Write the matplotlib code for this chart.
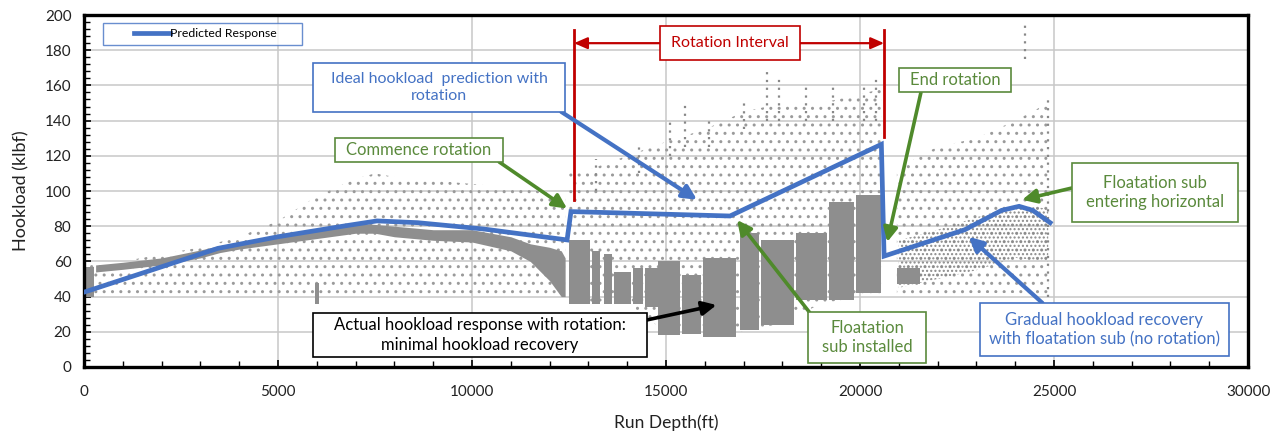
import matplotlib
matplotlib.use("Agg")
import matplotlib.pyplot as plt
from matplotlib.patches import Rectangle
from matplotlib.legend_handler import HandlerLine2D
from matplotlib.ticker import MultipleLocator

plt.rcParams['font.family'] = ['Lato', 'DejaVu Sans']
plt.rcParams['hatch.linewidth'] = 1.0

# ---------------- data ----------------
# Predicted response (blue line)
pred_depth = [0, 3450, 5000, 6700, 7550, 8600, 10300, 12450, 12550, 16650,
              20550, 20620, 22700, 23650, 24100, 24450, 24900]
pred_load = [42.5, 67.4, 74, 80.1, 83, 82, 78.4, 72.2, 88.3, 85.8,
             126.5, 63, 78, 89, 91.3, 89, 82]

# Measured hookload: sparse envelope (no rotation, first section)
sparseA_depth = [0, 1000, 2000, 3000, 4000, 5000, 5500, 6000, 6500, 7000,
                 7500, 8000, 9000, 10000, 11000, 12000, 12400]
sparseA_low = [40, 40, 40, 40, 40, 40, 40, 40, 40, 40, 40, 40, 40, 40, 40, 40, 40]
sparseA_high = [58, 60, 64, 68, 74, 83, 90, 97, 102, 107, 110, 108, 106, 104, 102, 99, 96]

# Measured hookload: dense trend band, first section
bandA_depth = [300, 1000, 2000, 3000, 3500, 4000, 5000, 6000, 7000, 7500,
               8000, 9000, 10000, 11000, 11500, 12000, 12300, 12400]
bandA_low = [54, 55.5, 58, 62, 65, 67, 70, 73, 76, 76, 74, 72, 71, 66, 60, 49, 40, 40]
bandA_high = [58, 59.5, 62, 66.5, 69, 70.5, 75, 78, 82, 81, 80, 78, 78, 74, 70, 68, 66, 62]

# Dense columns (start depth, end depth, low, high)
col_start = [0, 5950, 12500, 13100, 13400, 13650, 14150, 14450, 14800, 15400,
             15950, 16900, 17450, 18350, 19200, 19900, 20950]
col_end = [250, 6050, 13050, 13300, 13600, 14100, 14400, 14800, 15350, 15900,
           16800, 17400, 18300, 19150, 19850, 20550, 21550]
col_low = [40, 36, 36, 36, 36, 36, 36, 34, 18, 19, 17, 21, 24, 38, 38, 42, 47]
col_high = [57, 48, 72, 66, 64, 54, 56, 56, 60, 52, 62, 76, 72, 76, 94, 98, 56]

# Sparse envelope during rotation
sparseB_depth = [12500, 13000, 14000, 15000, 16000, 17000, 18000, 19000, 20000, 20550]
sparseB_low = [36, 36, 36, 20, 20, 20, 25, 36, 40, 40]
sparseB_high = [110, 112, 120, 128, 135, 145, 150, 150, 155, 158]

# Sparse envelope after rotation
sparseC_depth = [20950, 21500, 22000, 23000, 24000, 24850]
sparseC_low = [40, 40, 40, 42, 42, 40]
sparseC_high = [110, 120, 125, 130, 140, 150]

# Medium-density cloud after rotation
midC_depth = [21000, 22000, 23000, 24000, 24850]
midC_low = [45, 50, 55, 62, 60]
midC_high = [72, 78, 85, 92, 90]

# Tall vertical streaks of points (depth, bottom, top)
streak_depth = [13200, 14300, 15100, 15500, 16100, 17000, 17600, 17900, 18600,
                19300, 20100, 20400, 24250, 24850]
streak_low = [100, 110, 120, 125, 125, 135, 140, 140, 140, 140, 140, 140, 175, 40]
streak_high = [118, 128, 140, 150, 140, 152, 168, 165, 160, 160, 160, 165, 196, 152]

xticks = [0, 5000, 10000, 15000, 20000, 25000, 30000]
yticks = [0, 20, 40, 60, 80, 100, 120, 140, 160, 180, 200]

# ---------------- style ----------------
BLUE = '#4472c4'
GREEN = '#5a8a3c'
GREEN_ARROW = '#4f8a2b'
RED = '#c00000'
GRAY_DENSE = '#8e8e8e'
GRAY_SPARSE = '#9a9a9a'
TXT = '#222222'

fig = plt.figure(figsize=(12.84, 4.34), dpi=100)
ax = fig.add_axes([0.0654, 0.1544, 0.9066, 0.811])

ax.set_xlim(0, 30000)
ax.set_ylim(0, 200)
ax.set_xticks(xticks)
ax.set_yticks(yticks)
ax.xaxis.set_minor_locator(MultipleLocator(1000))
ax.yaxis.set_minor_locator(MultipleLocator(4))
ax.tick_params(which='both', direction='in', top=False, right=False,
               labelsize=11, labelcolor=TXT)
ax.tick_params(which='major', length=5, width=1.2)
ax.tick_params(which='minor', length=4, width=1.0)
ax.tick_params(axis='x', pad=13)
ax.tick_params(axis='y', pad=9)
ax.grid(True, which='major', color='#c8c8c8', lw=1.1)
ax.set_axisbelow(True)
for s in ax.spines.values():
    s.set_linewidth(2.4)
    s.set_color('black')

ax.set_xlabel('Run Depth(ft)', fontsize=12.5, labelpad=11, color=TXT)
ax.set_ylabel('Hookload (klbf)', fontsize=13, labelpad=11, color=TXT)

# ---------------- measured data ----------------
for d, lo, hi in [(sparseA_depth, sparseA_low, sparseA_high),
                  (sparseB_depth, sparseB_low, sparseB_high),
                  (sparseC_depth, sparseC_low, sparseC_high)]:
    ax.fill_between(d, lo, hi, facecolor='none', edgecolor=GRAY_SPARSE,
                    hatch='..', linewidth=0, zorder=1)
ax.fill_between(midC_depth, midC_low, midC_high, facecolor='none',
                edgecolor='#8a8a8a', hatch='....', linewidth=0, zorder=1.2)
ax.fill_between(bandA_depth, bandA_low, bandA_high, color=GRAY_DENSE,
                linewidth=0, zorder=1.5)
ax.bar([(a + b) / 2 for a, b in zip(col_start, col_end)],
       [h - l for h, l in zip(col_high, col_low)],
       bottom=col_low, width=[b - a for a, b in zip(col_start, col_end)],
       color=GRAY_DENSE, linewidth=0, zorder=1.5)
ax.vlines(streak_depth, streak_low, streak_high, colors='#888888',
          linestyles=(0, (1, 2.5)), linewidth=1.6, zorder=1.6)

# ---------------- predicted line ----------------
line, = ax.plot(pred_depth, pred_load, color=BLUE, lw=3.4, zorder=4,
                solid_joinstyle='miter', label='Predicted Response')

leg = ax.legend(handles=[line], loc='lower left',
                bbox_to_anchor=(0.0163, 0.915, 0.171, 0.065), mode='expand',
                fontsize=8.8, frameon=True, fancybox=False, handlelength=5.0,
                handletextpad=0.0, borderpad=0.45, borderaxespad=0,
                handler_map={line: HandlerLine2D(xpad=2.1)})
leg.get_frame().set_edgecolor(BLUE)
leg.get_frame().set_linewidth(1.0)
leg.get_lines()[0].set_linewidth(3.4)


def box(x0, x1, y0, y1, text, color, tcolor, fs=12, ha='center'):
    ax.add_patch(Rectangle((x0, y0), x1 - x0, y1 - y0, facecolor='white',
                           edgecolor=color, lw=1.2, zorder=6))
    ax.text((x0 + x1) / 2, (y0 + y1) / 2, text, color=tcolor, fontsize=fs,
            ha=ha, va='center', zorder=7, linespacing=1.25)


def arrow(start, end, color, lw=2.6):
    ax.annotate('', xy=end, xytext=start,
                arrowprops=dict(arrowstyle='-|>,head_length=0.85,head_width=0.42',
                                color=color, lw=lw, shrinkA=0, shrinkB=0),
                zorder=5)


# Rotation interval markers
ax.plot([12630, 12630], [95, 191.5], color=RED, lw=2.0, zorder=5)
ax.plot([20620, 20620], [130.7, 191.5], color=RED, lw=2.0, zorder=5)
for xend in (12630, 20620):
    ax.annotate('', xy=(xend, 184), xytext=(16650, 184),
                arrowprops=dict(arrowstyle='-|>,head_length=0.8,head_width=0.35',
                                color=RED, lw=1.6, shrinkA=0, shrinkB=0), zorder=5)
box(14850, 18450, 174.5, 194, 'Rotation Interval', RED, RED, fs=11.5)

# Annotations
box(5900, 12400, 145, 173, 'Ideal hookload  prediction with\nrotation', BLUE, BLUE, fs=11.5)
arrow((12300, 145), (15800, 95), BLUE, lw=3.0)

box(6470, 10800, 116.5, 130, 'Commence rotation', GREEN, GREEN)
arrow((10700, 116.5), (12450, 90), GREEN_ARROW)

box(21000, 23900, 156, 170, 'End rotation', GREEN, GREEN)
arrow((21570, 156), (20700, 71), GREEN_ARROW)

box(25460, 29740, 82.4, 116, 'Floatation sub\nentering horizontal', GREEN, GREEN)
arrow((25460, 101.7), (24180, 95), GREEN_ARROW)

box(23100, 29500, 6.2, 36.4, 'Gradual hookload recovery\nwith floatation sub (no rotation)', BLUE, BLUE)
arrow((24700, 36.4), (22800, 74), BLUE, lw=3.0)

box(18660, 21700, 2.3, 31, 'Floatation\nsub installed', GREEN, GREEN)
arrow((18700, 31), (16830, 83.5), GREEN_ARROW)

box(5900, 14500, 5.7, 30.7, 'Actual hookload response with rotation:\nminimal hookload recovery', 'black', 'black')
arrow((14500, 26.7), (16300, 35.2), 'black')

fig.savefig('out.png', dpi=100)
